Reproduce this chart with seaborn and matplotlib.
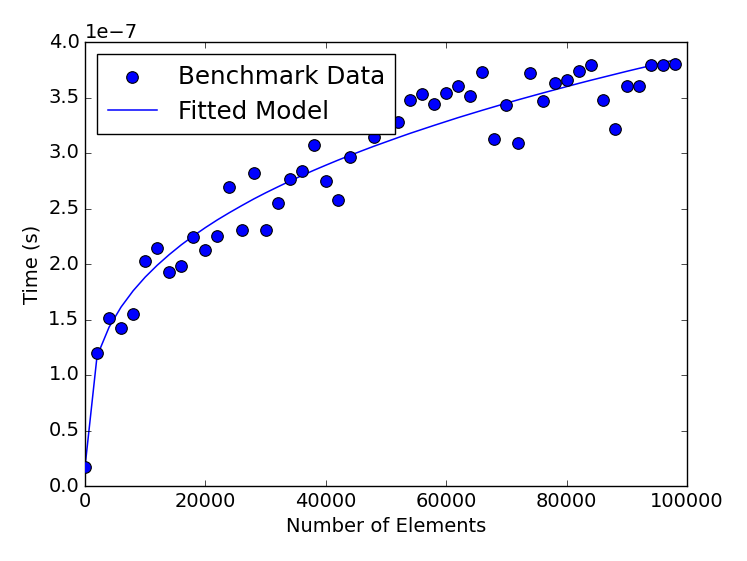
import matplotlib
matplotlib.use("Agg")
import matplotlib.pyplot as plt
import seaborn as sns
import numpy as np
import pandas as pd

# Data (time values in units of 1e-7 s)
n_elements = [0, 2000, 4000, 6000, 8000, 10000, 12000, 14000, 16000, 18000,
              20000, 22000, 24000, 26000, 28000, 30000, 32000, 34000, 36000, 38000,
              40000, 42000, 44000, 46000, 48000, 50000, 52000, 54000, 56000, 58000,
              60000, 62000, 64000, 66000, 68000, 70000, 72000, 74000, 76000, 78000,
              80000, 82000, 84000, 86000, 88000, 90000, 92000, 94000, 96000, 98000]
bench_time = [0.17, 1.20, 1.51, 1.42, 1.55, 2.03, 2.14, 1.93, 1.98, 2.24,
              2.13, 2.25, 2.69, 2.31, 2.82, 2.31, 2.55, 2.77, 2.84, 3.07,
              2.75, 2.58, 2.96, 3.35, 3.14, 3.40, 3.28, 3.48, 3.53, 3.44,
              3.54, 3.60, 3.51, 3.73, 3.13, 3.43, 3.09, 3.72, 3.47, 3.63,
              3.66, 3.74, 3.79, 3.48, 3.22, 3.60, 3.60, 3.79, 3.79, 3.80]
fit_time = [0.170, 1.170, 1.431, 1.613, 1.759, 1.882, 1.989, 2.085, 2.173, 2.253,
            2.328, 2.398, 2.463, 2.525, 2.585, 2.641, 2.694, 2.746, 2.796, 2.844,
            2.890, 2.935, 2.978, 3.020, 3.061, 3.100, 3.139, 3.177, 3.213, 3.249,
            3.284, 3.319, 3.352, 3.385, 3.417, 3.449, 3.480, 3.510, 3.540, 3.569,
            3.598, 3.627, 3.655, 3.682, 3.709, 3.736, 3.762, 3.787, 3.814, 3.839]
scale = 1e-7

df = pd.DataFrame({
    "n": n_elements,
    "bench": np.array(bench_time) * scale,
    "fit": np.array(fit_time) * scale,
})

plt.style.use("classic")
fig = plt.figure(figsize=(7.47, 5.61), dpi=100)
ax = fig.add_axes([85 / 747, 1 - 486 / 561, (687 - 85) / 747, (486 - 42) / 561])

sns.lineplot(data=df, x="n", y="fit", ax=ax, color="b", lw=1.1,
             label="Fitted Model", legend=False, zorder=2)
sns.scatterplot(data=df, x="n", y="bench", ax=ax, color="b", edgecolor="k",
                linewidth=0.8, s=70, label="Benchmark Data", legend=False, zorder=3)

ax.set_xlim(0, 100000)
ax.set_ylim(0, 4e-7)
ax.set_xticks([0, 20000, 40000, 60000, 80000, 100000])
ax.set_yticks(np.arange(0, 4.01e-7, 0.5e-7))
ax.set_xlabel("Number of Elements", fontsize=14)
ax.set_ylabel("Time (s)", fontsize=14)
ax.tick_params(labelsize=14)
ax.yaxis.get_offset_text().set_fontsize(14)

handles, labels = ax.get_legend_handles_labels()
order = [labels.index("Benchmark Data"), labels.index("Fitted Model")]
leg = ax.legend([handles[i] for i in order], [labels[i] for i in order],
                loc="upper left", scatterpoints=1, numpoints=1, fontsize=17.7,
                fancybox=False, frameon=True, handletextpad=0.85,
                handlelength=2.0, borderpad=0.42, labelspacing=0.45,
                borderaxespad=0.5)
leg.set_zorder(5)

fig.savefig("out.png", dpi=100)
